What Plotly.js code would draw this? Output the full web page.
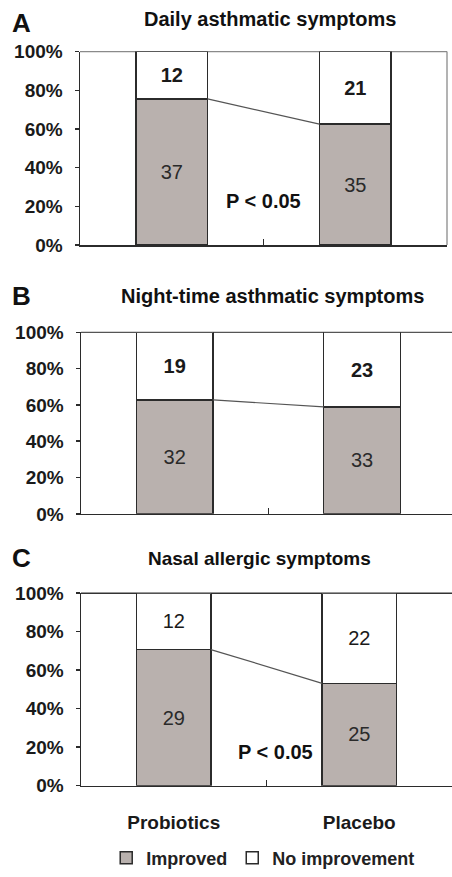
<!DOCTYPE html>
<html>
<head>
<meta charset="utf-8">
<script src="https://cdn.plot.ly/plotly-3.0.1.min.js"></script>
<style>html,body{margin:0;padding:0;background:#fff;overflow:hidden}#chart{width:452px;height:877px}</style>
</head>
<body>
<div id="chart"></div>
<script>
// ---- data ----
const categories = ['Probiotics', 'Placebo'];
const seriesNames = ['Improved', 'No improvement'];
const panelLetters = ['A', 'B', 'C'];
const panelTitles = ['Daily asthmatic symptoms', 'Night-time asthmatic symptoms', 'Nasal allergic symptoms'];
const improvedA = [37, 35];
const noImproveA = [12, 21];
const improvedB = [32, 33];
const noImproveB = [19, 23];
const improvedC = [29, 25];
const noImproveC = [12, 22];
const pValueLabels = ['P < 0.05', '', 'P < 0.05'];
const yTickVals = [0, 20, 40, 60, 80, 100];

// ---- style / layout ----
const H = 877, W = 452;
const GREY = '#b9b1ae';
const EDGE = '#2b2b2b';
const FONT = 'Liberation Sans, Arial, sans-serif';
const NARROW = 'Liberation Sans Narrow, Liberation Sans, Arial, sans-serif';

const panels = [
  {imp: improvedA, no: noImproveA, top: 52, bot: 247, left: 80, right: 447, range: [-0.5, 1.5], bw: 0.39,
   noBold: true, impBold: false, tickFont: FONT, border: '#8a8a8a', rightBorder: true,
   letterY: 23, titleY: 19, titleX: 270, titleSize: 20, titleFont: FONT, pX: 0.5, pY: 23},
  {imp: improvedB, no: noImproveB, top: 335, bot: 518, left: 81, right: 452, range: [-0.5, 1.48], bw: 0.41,
   noBold: true, impBold: false, tickFont: FONT, border: '#555', rightBorder: false,
   letterY: 298, titleY: 298, titleX: 272, titleSize: 20, titleFont: FONT},
  {imp: improvedC, no: noImproveC, top: 598, bot: 792, left: 81, right: 452, range: [-0.5, 1.5], bw: 0.40,
   noBold: false, impBold: false, tickFont: NARROW, border: '#333', rightBorder: false,
   letterY: 562, titleY: 563, titleX: 259, titleSize: 19, titleFont: NARROW, pX: 0.55, pY: 17.5}
];

const traces = [];
const layout = {
  width: W, height: H,
  margin: {l: 0, r: 0, t: 0, b: 0},
  paper_bgcolor: '#fff', plot_bgcolor: '#fff',
  barmode: 'stack', barnorm: 'percent',
  showlegend: true,
  legend: {orientation: 'h', x: 0.235, xanchor: 'left', y: 12 / H, yanchor: 'middle',
           font: {family: FONT, size: 18, color: '#222', weight: 'bold'}, traceorder: 'normal',
           itemclick: false, bgcolor: 'rgba(0,0,0,0)'},
  annotations: [], shapes: [],
  hovermode: false
};

panels.forEach((p, i) => {
  const n = i === 0 ? '' : String(i + 1);
  const xa = 'x' + n, ya = 'y' + n;
  traces.push({
    type: 'bar', x: categories, y: p.imp, name: seriesNames[0], xaxis: xa, yaxis: ya,
    width: p.bw, marker: {color: GREY, line: {color: EDGE, width: 1.5}},
    text: p.imp.map(String), textposition: 'inside', insidetextanchor: 'middle',
    textfont: {family: FONT, size: 20, color: '#2a2a2a', weight: p.impBold ? 'bold' : 'normal'},
    showlegend: i === 0, legendgroup: 'imp', hoverinfo: 'skip'
  });
  traces.push({
    type: 'bar', x: categories, y: p.no, name: seriesNames[1], xaxis: xa, yaxis: ya,
    width: p.bw, marker: {color: '#ffffff', line: {color: EDGE, width: 1.5}},
    text: p.no.map(String), textposition: 'inside', insidetextanchor: 'middle',
    textfont: {family: FONT, size: 20, color: '#1a1a1a', weight: p.noBold ? 'bold' : 'normal'},
    showlegend: i === 0, legendgroup: 'no', hoverinfo: 'skip'
  });

  const isLast = i === panels.length - 1;
  layout['xaxis' + n] = {
    domain: [p.left / W, p.right / W], anchor: ya, type: 'category',
    categoryorder: 'array', categoryarray: categories,
    range: p.range, fixedrange: true,
    showline: true, linecolor: EDGE, linewidth: 1.5,
    ticks: 'inside', tickson: 'boundaries', ticklen: 6, tickcolor: EDGE, tickwidth: 1.5,
    showgrid: false, zeroline: false,
    showticklabels: isLast, ticklabelstandoff: 19,
    tickfont: {family: NARROW, size: 19, color: '#1a1a1a', weight: 'bold'}
  };
  layout['yaxis' + n] = {
    domain: [(H - p.bot) / H, (H - p.top) / H], anchor: xa,
    range: [0, 100], fixedrange: true,
    tickmode: 'array', tickvals: yTickVals, ticktext: yTickVals.map(v => v + '%'),
    showline: true, linecolor: EDGE, linewidth: 1.5,
    ticks: 'outside', ticklen: 4, tickcolor: EDGE, tickwidth: 1.5,
    showgrid: false, zeroline: false, ticklabelstandoff: 8,
    tickfont: {family: p.tickFont, size: 19, color: '#1a1a1a', weight: 'bold'}
  };

  // plot-area border (top, and right for A)
  layout.shapes.push({type: 'line', xref: xa + ' domain', yref: ya + ' domain', x0: 0, x1: 1, y0: 1, y1: 1,
                      line: {color: p.border, width: 1.3}, layer: 'below'});
  if (p.rightBorder) {
    layout.shapes.push({type: 'line', xref: xa + ' domain', yref: ya + ' domain', x0: 1, x1: 1, y0: 0, y1: 1,
                        line: {color: p.border, width: 1.3}, layer: 'below'});
  }
  // series line joining the tops of the "Improved" segments
  const pct = p.imp.map((v, k) => 100 * v / (v + p.no[k]));
  layout.shapes.push({type: 'line', xref: xa, yref: ya, x0: 0 + p.bw / 2, x1: 1 - p.bw / 2,
                      y0: pct[0], y1: pct[1], line: {color: '#555', width: 1.2}});

  // panel letter and title
  layout.annotations.push({xref: 'paper', yref: 'paper', x: 10 / W, y: (H - p.letterY) / H,
    xanchor: 'left', yanchor: 'middle', showarrow: false, text: panelLetters[i],
    font: {family: FONT, size: 26, color: '#111', weight: 'bold'}});
  layout.annotations.push({xref: 'paper', yref: 'paper', x: p.titleX / W, y: (H - p.titleY) / H,
    xanchor: 'center', yanchor: 'middle', showarrow: false, text: panelTitles[i],
    font: {family: p.titleFont, size: p.titleSize, color: '#111', weight: 'bold'}});
  if (pValueLabels[i]) {
    layout.annotations.push({xref: xa, yref: ya, x: p.pX, y: p.pY, xanchor: 'center', yanchor: 'middle',
      showarrow: false, text: pValueLabels[i],
      font: {family: FONT, size: 20, color: '#111', weight: 'bold'}});
  }
});

Plotly.newPlot('chart', traces, layout, {displayModeBar: false, staticPlot: true});
</script>
</body>
</html>
